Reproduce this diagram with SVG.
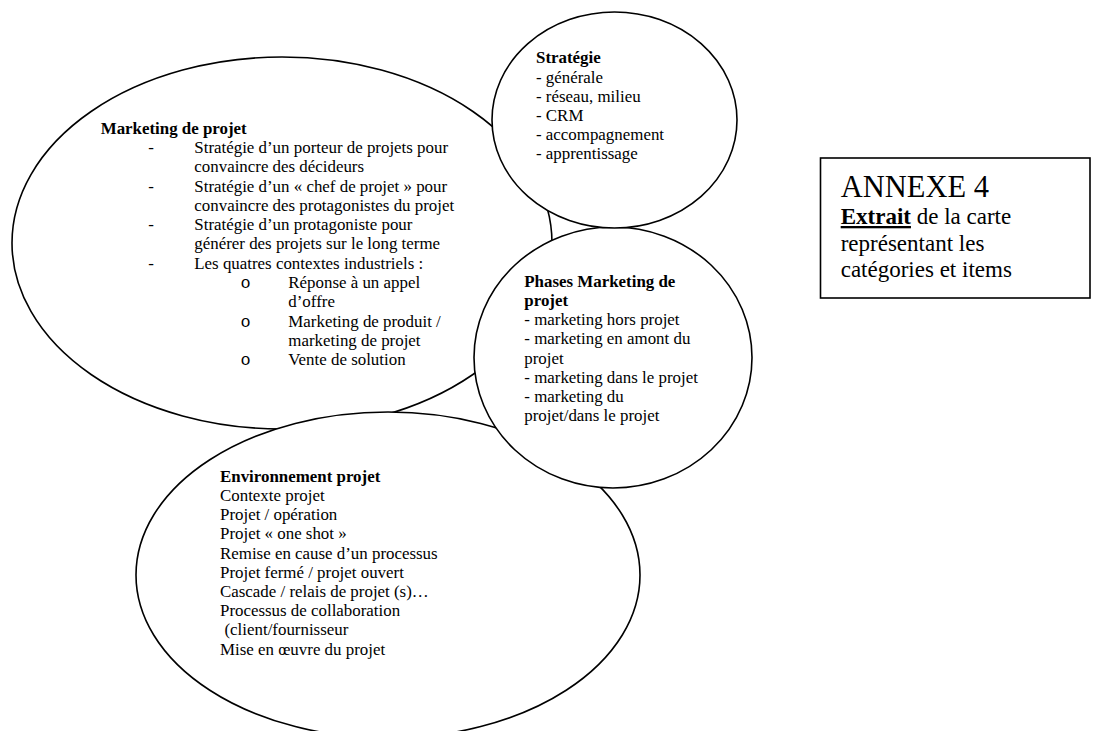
<svg xmlns="http://www.w3.org/2000/svg" width="1093" height="731" viewBox="0 0 1093 731">
<style>
.sh{fill:#fff;stroke:#000;stroke-width:1.6}
.t{font-family:"Liberation Serif","Times New Roman",serif;font-size:16.9px;fill:#000}
.b{font-weight:bold}
.m{font-family:"Liberation Mono","Courier New",monospace;font-size:16.9px;fill:#000}
.a{font-family:"Liberation Serif","Times New Roman",serif;fill:#000}
</style>
<rect width="1093" height="731" fill="#fff"/>
<g id="connectors"></g>
<g id="marketing-projet">
<ellipse class="sh" cx="282" cy="243" rx="270" ry="186"/>
<text class="t b" x="100.7" y="133.6">Marketing de projet</text>
<text class="t" x="148.3" y="152.9">-</text>
<text class="t" x="194.3" y="152.9">Stratégie d’un porteur de projets pour</text>
<text class="t" x="194.3" y="172.2">convaincre des décideurs</text>
<text class="t" x="148.3" y="191.5">-</text>
<text class="t" x="194.3" y="191.5">Stratégie d’un « chef de projet » pour</text>
<text class="t" x="194.3" y="210.8">convaincre des protagonistes du projet</text>
<text class="t" x="148.3" y="230.1">-</text>
<text class="t" x="194.3" y="230.1">Stratégie d’un protagoniste pour</text>
<text class="t" x="194.3" y="249.4">générer des projets sur le long terme</text>
<text class="t" x="148.3" y="268.7">-</text>
<text class="t" x="194.3" y="268.7">Les quatres contextes industriels :</text>
<text class="m" x="240.6" y="288">o</text>
<text class="t" x="288.3" y="288">Réponse à un appel</text>
<text class="t" x="288.3" y="307.3">d’offre</text>
<text class="m" x="240.6" y="326.6">o</text>
<text class="t" x="288.3" y="326.6">Marketing de produit /</text>
<text class="t" x="288.3" y="345.9">marketing de projet</text>
<text class="m" x="240.6" y="365.2">o</text>
<text class="t" x="288.3" y="365.2">Vente de solution</text>
</g>
<g id="environnement-projet">
<ellipse class="sh" cx="388" cy="575" rx="252" ry="163"/>
<text class="t b" x="220" y="481.7">Environnement projet</text>
<text class="t" x="220" y="501">Contexte projet</text>
<text class="t" x="220" y="520.2">Projet / opération</text>
<text class="t" x="220" y="539.4">Projet « one shot »</text>
<text class="t" x="220" y="558.6">Remise en cause d’un processus</text>
<text class="t" x="220" y="577.8">Projet fermé / projet ouvert</text>
<text class="t" x="220" y="597">Cascade / relais de projet (s)…</text>
<text class="t" x="220" y="616.2">Processus de collaboration</text>
<text class="t" x="224.5" y="635.4">(client/fournisseur</text>
<text class="t" x="220" y="654.6">Mise en œuvre du projet</text>
</g>
<g id="phases-marketing">
<ellipse class="sh" cx="613" cy="357.5" rx="139" ry="130.5"/>
<text class="t b" x="524.3" y="286.7">Phases Marketing de</text>
<text class="t b" x="524.3" y="305.9">projet</text>
<text class="t" x="524.3" y="325.1">- marketing hors projet</text>
<text class="t" x="524.3" y="344.3">- marketing en amont du</text>
<text class="t" x="524.3" y="363.5">projet</text>
<text class="t" x="524.3" y="382.7">- marketing dans le projet</text>
<text class="t" x="524.3" y="401.9">- marketing du</text>
<text class="t" x="524.3" y="421.1">projet/dans le projet</text>
</g>
<g id="strategie">
<ellipse class="sh" cx="614.5" cy="120" rx="122.5" ry="108"/>
<text class="t b" x="536" y="63.3">Stratégie</text>
<text class="t" x="536" y="82.5">- générale</text>
<text class="t" x="536" y="101.7">- réseau, milieu</text>
<text class="t" x="536" y="120.9">- CRM</text>
<text class="t" x="536" y="140.1">- accompagnement</text>
<text class="t" x="536" y="159.3">- apprentissage</text>
</g>
<g id="annexe">
<rect x="820.5" y="158" width="269.5" height="140" fill="#fff" stroke="#000" stroke-width="1.6"/>
<text class="a" x="840.7" y="197.3" font-size="30.5">ANNEXE 4</text>
<text class="a" x="840.7" y="224" font-size="23"><tspan font-weight="bold" text-decoration="underline">Extrait</tspan> de la carte</text>
<text class="a" x="840.7" y="250.5" font-size="23">représentant les</text>
<text class="a" x="840.7" y="277" font-size="23">catégories et items</text>
</g>
</svg>
